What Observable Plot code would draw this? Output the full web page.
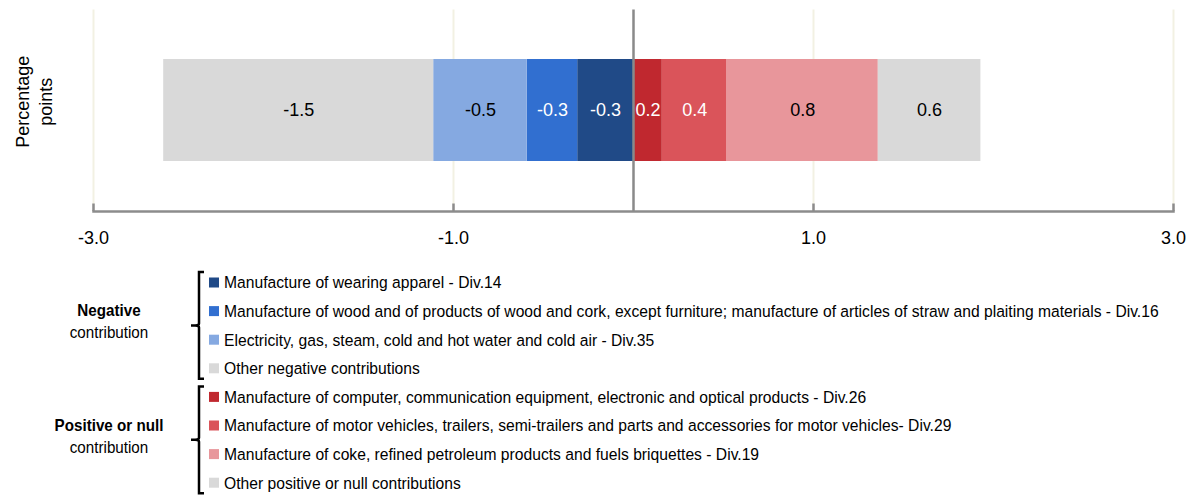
<!DOCTYPE html>
<html><head><meta charset="utf-8">
<script src="https://cdn.jsdelivr.net/npm/d3@7"></script>
<script src="https://cdn.jsdelivr.net/npm/@observablehq/plot@0.6"></script>
<style>
body{margin:0;background:#fff;}
#chart svg{display:block;}
</style></head><body><div id="chart"></div><script>
// ---- data ----
const categories = [
  "Manufacture of wearing apparel - Div.14",
  "Manufacture of wood and of products of wood and cork, except furniture; manufacture of articles of straw and plaiting materials - Div.16",
  "Electricity, gas, steam, cold and hot water and cold air - Div.35",
  "Other negative contributions",
  "Manufacture of computer, communication equipment, electronic and optical products - Div.26",
  "Manufacture of motor vehicles, trailers, semi-trailers and parts and accessories for motor vehicles- Div.29",
  "Manufacture of coke, refined petroleum products and fuels briquettes - Div.19",
  "Other positive or null contributions"
];
const values = [-0.31, -0.28, -0.52, -1.50, 0.16, 0.36, 0.84, 0.57];
const colors = ["#204A87", "#316FD0", "#85A9E1", "#D9D9D9", "#C0282F", "#DA545A", "#E8969B", "#D9D9D9"];
const labelColors = ["white", "white", "black", "black", "white", "white", "black", "black"];
const groupNames = ["Negative", "Positive or null"];
const groupSub = "contribution";
const groupOf = [0, 0, 0, 0, 1, 1, 1, 1];
const xTicks = [-3, -1, 1, 3];
const yLabel = "Percentage\npoints";
const rowName = "Percentage points";

const fmt = d => d.toFixed(1);
const data = categories.map((c, i) => ({category: c, value: values[i], row: rowName, label: fmt(values[i]), tc: labelColors[i]}));

const chart = Plot.plot({
  width: 1196, height: 260,
  marginTop: 9.5, marginRight: 23, marginBottom: 49, marginLeft: 93,
  style: {fontFamily: "'Liberation Sans', Arial, sans-serif", fontSize: "18px", color: "#000", background: "#fff"},
  x: {domain: [-3, 3], ticks: xTicks, tickFormat: fmt, tickSize: 0, tickPadding: 20, label: null},
  y: {domain: [rowName], axis: null, padding: 0.327},
  color: {domain: categories, range: colors},
  marks: [
    Plot.ruleX(xTicks, {x: d => d, stroke: "#F2F1E3", strokeWidth: 2}),
    Plot.barX(data, Plot.stackX({x: "value", y: "row", fill: "category"})),
    Plot.text(data, Plot.stackX({x: "value", y: "row", text: d => d.tc === "white" ? d.label : "", fill: "white", fontSize: 18})),
    Plot.text(data, Plot.stackX({x: "value", y: "row", text: d => d.tc === "black" ? d.label : "", fill: "black", fontSize: 18})),
    Plot.ruleX([0], {x: d => d, stroke: "#8a8a8a", strokeWidth: 2.5}),
    Plot.frame({anchor: "bottom", stroke: "#8c8c8c", strokeWidth: 2.5}),
    Plot.ruleX(xTicks, {x: d => d, stroke: "#8c8c8c", strokeWidth: 2.5, insetTop: 194}),
    Plot.text([yLabel], {text: d => d, frameAnchor: "left", dx: -60, dy: -9, rotate: -90, textAnchor: "middle", lineAnchor: "middle", fontSize: 18, lineHeight: 1.25, fill: "black"})
  ]
});
document.getElementById("chart").appendChild(chart);

// ---- legend ----
const legFont = "'Liberation Sans Narrow', 'Arial Narrow', 'Liberation Sans', sans-serif";
const lg = d3.create("svg").attr("width", 1196).attr("height", 235).style("display", "block")
  .attr("viewBox", "0 260 1196 235");
const rowY = i => 282.5 + i * 28.6;
const sx = 0.95;
categories.forEach((c, i) => {
  lg.append("rect").attr("x", 209).attr("y", rowY(i) - 5).attr("width", 10).attr("height", 10).attr("fill", colors[i]);
  lg.append("text").attr("transform", `translate(224,${rowY(i)}) scale(${sx},1)`).attr("dy", "0.36em")
    .attr("font-family", legFont).attr("font-size", 16.5).attr("fill", "#000").text(c);
});
groupNames.forEach((g, k) => {
  const idx = groupOf.map((v, i) => v === k ? i : -1).filter(i => i >= 0);
  const y0 = rowY(idx[0]) - 10.5, y1 = rowY(idx[idx.length - 1]) + 10.5;
  const ym = (y0 + y1) / 2;
  lg.append("path").attr("d", `M204,${y0} L199,${y0} L199,${ym - 2} Q199,${ym} 195,${ym} L191,${ym} L195,${ym} Q199,${ym} 199,${ym + 2} L199,${y1} L204,${y1}`)
    .attr("fill", "none").attr("stroke", "#000").attr("stroke-width", 2.5);
  lg.append("text").attr("transform", `translate(109,${ym - 15}) scale(${sx},1)`).attr("dy", "0.36em").attr("text-anchor", "middle")
    .attr("font-family", legFont).attr("font-size", 16).attr("font-weight", "bold").text(g);
  lg.append("text").attr("transform", `translate(109,${ym + 7}) scale(${sx},1)`).attr("dy", "0.36em").attr("text-anchor", "middle")
    .attr("font-family", legFont).attr("font-size", 16).text(groupSub);
});
document.getElementById("chart").appendChild(lg.node());
</script></body></html>
